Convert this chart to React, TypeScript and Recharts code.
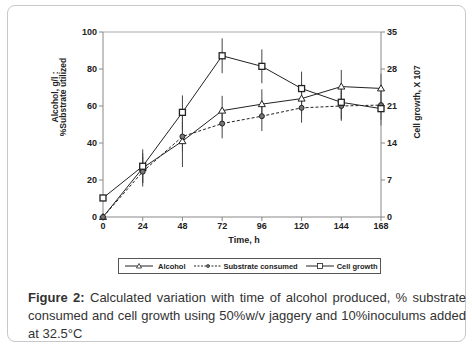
import React from 'react';
import { LineChart, Line, XAxis, YAxis, ErrorBar, ReferenceLine } from 'recharts';

const hours = [0, 24, 48, 72, 96, 120, 144, 168];
const alcohol = [0, 26.5, 41, 57.5, 61, 64, 70.5, 69.5];
const alcoholErr = [0, 8, 14, 8, 8, 8, 9, 8];
const substrate = [0, 24.5, 43.5, 50.5, 54.5, 59, 60, 60.5];
const substrateErr = [0, 8, 8, 8, 8, 8, 8, 8];
const cellGrowth = [3.6, 9.6, 19.8, 30.5, 28.5, 24.3, 21.7, 20.5];
const cellErr = [0, 3.2, 3.2, 3.3, 3.2, 3.2, 3.2, 3.2];

const xTicks = [0, 24, 48, 72, 96, 120, 144, 168];
const leftTicks = [0, 20, 40, 60, 80, 100];
const rightTicks = [0, 7, 14, 21, 28, 35];

const data = hours.map((h, i) => ({
  time: h,
  alcohol: alcohol[i],
  alcoholErr: alcoholErr[i],
  substrate: substrate[i],
  substrateErr: substrateErr[i],
  cell: cellGrowth[i],
  cellErr: cellErr[i],
}));

const FONT = '"Liberation Sans", Arial, sans-serif';
const INK = '#222';

function TriangleDot(props: any) {
  const { cx, cy } = props;
  if (cx == null || cy == null) return null;
  return (
    <path
      d={`M${cx},${cy - 3.5}L${cx + 3.5},${cy + 2.5}L${cx - 3.5},${cy + 2.5}Z`}
      fill="#fff"
      stroke={INK}
      strokeWidth={1}
    />
  );
}

function CircleDot(props: any) {
  const { cx, cy } = props;
  if (cx == null || cy == null) return null;
  return <circle cx={cx} cy={cy} r={2.5} fill="#777" stroke={INK} strokeWidth={1} />;
}

function SquareDot(props: any) {
  const { cx, cy } = props;
  if (cx == null || cy == null) return null;
  return <rect x={cx - 3} y={cy - 3} width={6} height={6} fill="#fff" stroke={INK} strokeWidth={1.3} />;
}

const tickStyle = { fontSize: 9, fontWeight: 700, fill: INK, fontFamily: FONT };

function LegendIcon({ kind }: { kind: 'tri' | 'circ' | 'sq' }) {
  return (
    <svg width={28} height={8} style={{ display: 'block', flex: 'none' }}>
      <line x1={0} y1={4} x2={28} y2={4} stroke={INK} strokeWidth={1} strokeDasharray={kind === 'circ' ? '2 1.5' : undefined} />
      {kind === 'tri' && <path d="M14,1.5L16.5,6L11.5,6Z" fill="#fff" stroke={INK} strokeWidth={0.8} />}
      {kind === 'circ' && <circle cx={14} cy={4} r={1.5} fill="#777" stroke={INK} strokeWidth={0.7} />}
      {kind === 'sq' && <rect x={11.5} y={1.5} width={5} height={5} fill="#fff" stroke={INK} strokeWidth={0.8} />}
    </svg>
  );
}

// caption lines, split by hand so the first two can be justified
const captionLine = { height: 18, textAlign: 'justify' as const, textAlignLast: 'justify' as const, whiteSpace: 'nowrap' as const };

export default function App() {
  return (
    <div style={{ position: 'absolute', left: 0, top: 0, width: 472, height: 352, background: '#fff', fontFamily: FONT }}>
      <div
        style={{
          position: 'absolute',
          left: 7,
          top: 5,
          width: 459,
          height: 337,
          border: '1px solid #c8c8c8',
          borderRadius: 8,
          boxSizing: 'border-box',
        }}
      />
      <div style={{ position: 'absolute', left: 0, top: 0 }}>
        <LineChart width={472} height={250} data={data} margin={{ top: 32, right: 51, left: 63, bottom: 13 }}>
          <XAxis
            dataKey="time"
            type="number"
            domain={[0, 168]}
            ticks={xTicks}
            stroke="#888"
            tickSize={4}
            tick={tickStyle}
            height={20}
            interval={0}
          />
          <YAxis
            yAxisId="left"
            type="number"
            domain={[0, 100]}
            ticks={leftTicks}
            stroke="#888"
            tickSize={4}
            tick={tickStyle}
            width={40}
            interval={0}
          />
          <YAxis
            yAxisId="right"
            orientation="right"
            type="number"
            domain={[0, 35]}
            ticks={rightTicks}
            stroke="#888"
            tickSize={4}
            tick={tickStyle}
            width={40}
            interval={0}
          />
          <ReferenceLine yAxisId="left" y={100} stroke="#aaa" strokeWidth={1} />
          <Line
            yAxisId="left"
            dataKey="alcohol"
            type="linear"
            stroke={INK}
            strokeWidth={1}
            dot={<TriangleDot />}
            isAnimationActive={false}
          >
            <ErrorBar dataKey="alcoholErr" width={0} stroke="#444" strokeWidth={1} direction="y" />
          </Line>
          <Line
            yAxisId="left"
            dataKey="substrate"
            type="linear"
            stroke={INK}
            strokeWidth={1}
            strokeDasharray="3 2"
            dot={<CircleDot />}
            isAnimationActive={false}
          >
            <ErrorBar dataKey="substrateErr" width={0} stroke="#444" strokeWidth={1} direction="y" />
          </Line>
          <Line
            yAxisId="right"
            dataKey="cell"
            type="linear"
            stroke={INK}
            strokeWidth={1}
            dot={<SquareDot />}
            isAnimationActive={false}
          >
            <ErrorBar dataKey="cellErr" width={0} stroke="#444" strokeWidth={1} direction="y" />
          </Line>
        </LineChart>
      </div>

      <svg width={472} height={250} style={{ position: 'absolute', left: 0, top: 0, pointerEvents: 'none' }}>
        <text transform="translate(58,97) rotate(-90)" textAnchor="middle" fontSize={8.5} fontWeight={700} fill={INK} fontFamily={FONT}>
          <tspan x={0} dy={0}>Alcohol, g/l :</tspan>
          <tspan x={0} dy={8}>%Substrate utilized</tspan>
        </text>
        <text transform="translate(420,102) rotate(-90)" textAnchor="middle" fontSize={8.5} fontWeight={700} fill={INK} fontFamily={FONT}>
          Cell growth, X 107
        </text>
        <text x={244} y={243} textAnchor="middle" fontSize={9} fontWeight={700} fill={INK} fontFamily={FONT}>
          Time, h
        </text>
      </svg>

      <div
        style={{
          position: 'absolute',
          left: 118,
          top: 258,
          width: 263,
          height: 16,
          border: '1px solid #555',
          boxSizing: 'border-box',
          display: 'flex',
          alignItems: 'center',
          paddingLeft: 6,
          fontSize: 7.5,
          fontWeight: 700,
          color: INK,
          whiteSpace: 'nowrap',
        }}
      >
        <LegendIcon kind="tri" />
        <span style={{ marginLeft: 5, marginRight: 8 }}>Alcohol</span>
        <LegendIcon kind="circ" />
        <span style={{ marginLeft: 2, marginRight: 8 }}>Substrate consumed</span>
        <LegendIcon kind="sq" />
        <span style={{ marginLeft: 3 }}>Cell growth</span>
      </div>

      <div
        style={{
          position: 'absolute',
          left: 28,
          top: 289,
          width: 438,
          fontSize: 13,
          lineHeight: '18px',
          color: '#333',
        }}
      >
        <div style={captionLine}>
          <b>Figure 2:</b> Calculated variation with time of alcohol produced, % substrate
        </div>
        <div style={captionLine}>consumed and cell growth using 50%w/v jaggery and 10%inoculums added</div>
        <div style={{ height: 18 }}>at 32.5°C</div>
      </div>
    </div>
  );
}
